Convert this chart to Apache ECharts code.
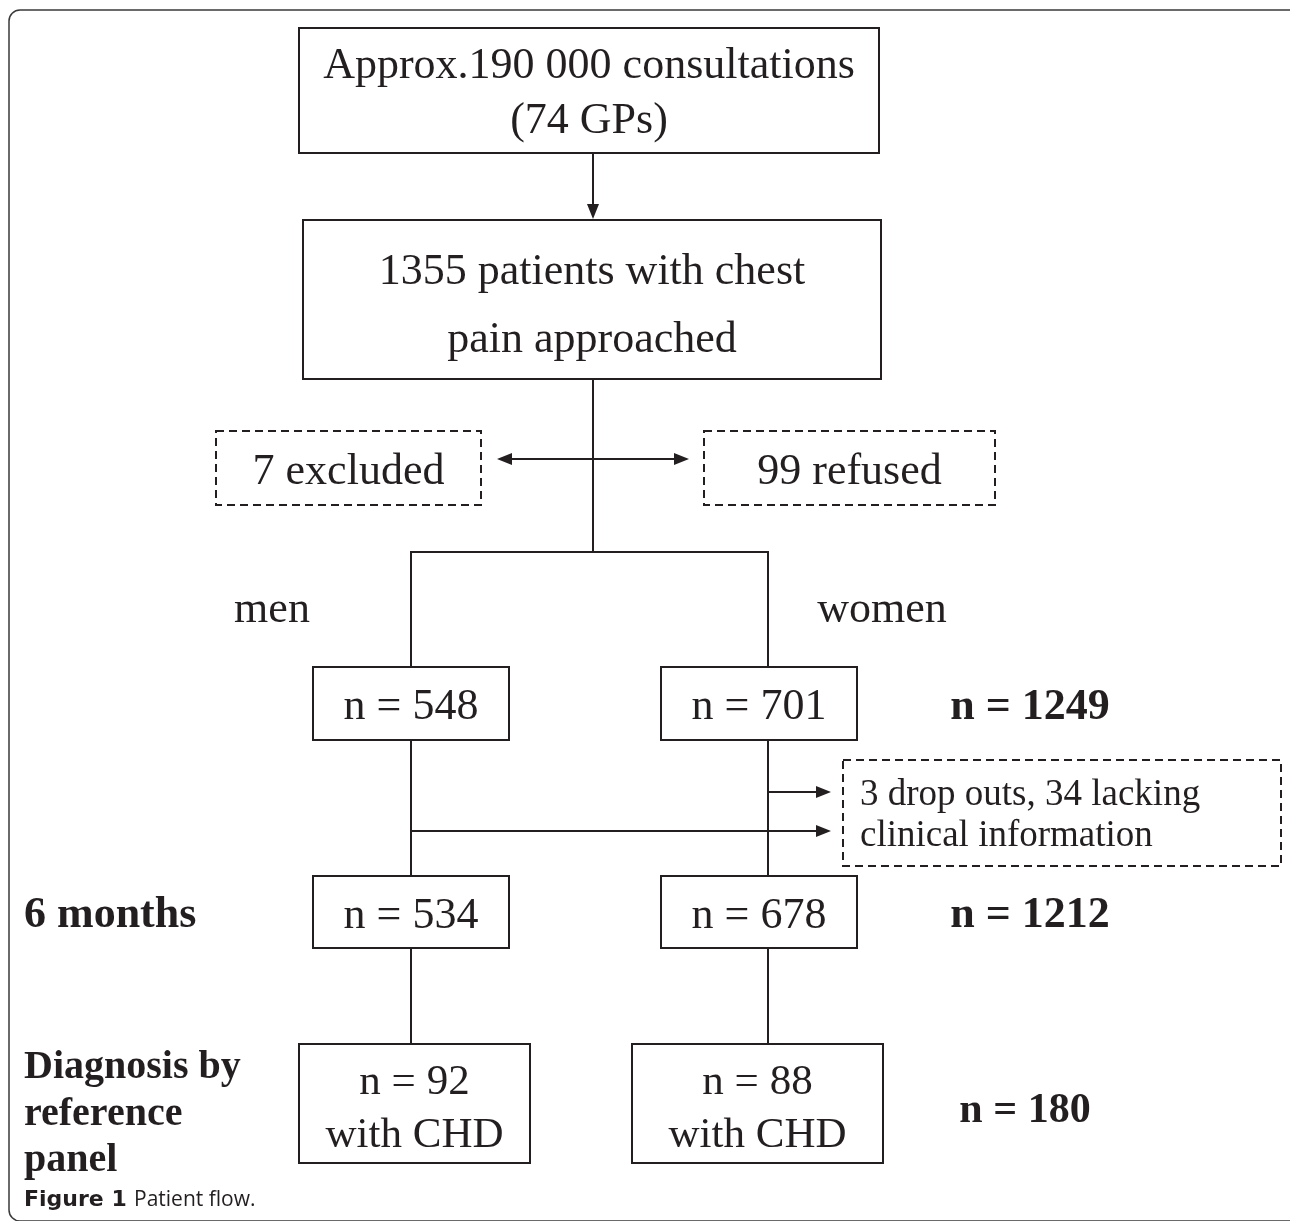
<!DOCTYPE html>
<html>
<head>
<meta charset="utf-8">
<script src="https://cdn.jsdelivr.net/npm/echarts@6/dist/echarts.min.js"></script>
<style>
  html, body { margin: 0; padding: 0; background: #fff; }
  #chart { width: 1290px; height: 1221px; }
</style>
</head>
<body>
<div id="chart"></div>
<script>
// ---------- data (text & numbers) ----------
const sourceLines      = ["Approx.190 000 consultations", "(74 GPs)"];
const approachedLines  = ["1355 patients with chest", "pain approached"];
const exclusionLabels  = ["7 excluded", "99 refused"];
const groupLabels      = ["men", "women"];
const baselineCounts   = [548, 701];
const baselineTotal    = 1249;
const lossLines        = ["3 drop outs, 34 lacking", "clinical information"];
const followupCounts   = [534, 678];
const followupTotal    = 1212;
const chdCounts        = [92, 88];
const chdTotal         = 180;
const stageLabels      = ["6 months", "Diagnosis by", "reference", "panel"];
const captionBold      = "Figure 1";
const captionText      = "Patient flow.";

// ---------- layout (pixel geometry, kept apart from the data) ----------
const L = {
  src:   { x: 299, y: 28,  w: 580, h: 125 },
  appr:  { x: 303, y: 220, w: 578, h: 159 },
  excl:  [{ x: 216, y: 431, w: 265, h: 74 }, { x: 704, y: 431, w: 291, h: 74 }],
  base:  [{ x: 313, y: 667, w: 196, h: 73 }, { x: 661, y: 667, w: 196, h: 73 }],
  fol:   [{ x: 313, y: 876, w: 196, h: 72 }, { x: 661, y: 876, w: 196, h: 72 }],
  chd:   [{ x: 299, y: 1044, w: 231, h: 119 }, { x: 632, y: 1044, w: 251, h: 119 }],
  loss:  { x: 843, y: 760, w: 438, h: 106 },
  cx: 593, lx: 411, rx: 768, splitY: 552,
  totalX: 1030
};

const INK = '#231f20';
const SERIF = '"Liberation Serif", "Times New Roman", serif';
const DY = 3;
const els = [];

function rect(b, dashed) {
  els.push({ type: 'rect', shape: { x: b.x, y: b.y, width: b.w, height: b.h },
    style: { fill: null, stroke: INK, lineWidth: 2, lineDash: dashed ? [8, 5] : null } });
}
function line(points) {
  els.push({ type: 'polyline', shape: { points: points },
    style: { fill: null, stroke: INK, lineWidth: 2 } });
}
function head(tx, ty, dir) {
  const L2 = 15, W = 6;
  let pts;
  if (dir === 'down') pts = [[tx, ty], [tx - W, ty - L2], [tx + W, ty - L2]];
  if (dir === 'right') pts = [[tx, ty], [tx - L2, ty - W], [tx - L2, ty + W]];
  if (dir === 'left') pts = [[tx, ty], [tx + L2, ty - W], [tx + L2, ty + W]];
  els.push({ type: 'polygon', shape: { points: pts }, style: { fill: INK } });
}
function text(str, x, y, size, opts) {
  opts = opts || {};
  els.push({ type: 'text', x: x, y: y + DY, style: {
    text: str, fill: INK,
    font: (opts.bold ? 'bold ' : '') + size + 'px ' + (opts.family || SERIF),
    align: opts.align || 'center', verticalAlign: 'middle' } });
}
function center(b) { return [b.x + b.w / 2, b.y + b.h / 2]; }

// outer frame
els.push({ type: 'rect', shape: { x: 9, y: 10, width: 1292, height: 1211, r: 11 },
  style: { fill: null, stroke: '#3a3a3a', lineWidth: 1.5 } });

// boxes
rect(L.src); rect(L.appr);
rect(L.excl[0], true); rect(L.excl[1], true);
rect(L.loss, true);
[L.base, L.fol, L.chd].forEach(a => a.forEach(b => rect(b)));

// box texts
let c = center(L.src);
text(sourceLines[0], c[0], c[1] - 27, 44);
text(sourceLines[1], c[0], c[1] + 28, 44);
c = center(L.appr);
text(approachedLines[0], c[0], c[1] - 30, 44);
text(approachedLines[1], c[0], c[1] + 38, 44);
exclusionLabels.forEach((s, i) => { const p = center(L.excl[i]); text(s, p[0], p[1] + 1, 44); });
baselineCounts.forEach((v, i) => { const p = center(L.base[i]); text('n = ' + v, p[0], p[1] + 1, 44); });
followupCounts.forEach((v, i) => { const p = center(L.fol[i]); text('n = ' + v, p[0], p[1] + 1, 44); });
chdCounts.forEach((v, i) => { const p = center(L.chd[i]);
  text('n = ' + v, p[0], p[1] - 24, 43); text('with CHD', p[0], p[1] + 29, 43); });
text(lossLines[0], L.loss.x + 17, L.loss.y + 32, 37, { align: 'left' });
text(lossLines[1], L.loss.x + 17, L.loss.y + 73, 37, { align: 'left' });

// group labels & totals
text(groupLabels[0], 272, 607, 44);
text(groupLabels[1], 882, 607, 44);
text('n = ' + baselineTotal, L.totalX, 705, 44, { bold: true });
text('n = ' + followupTotal, L.totalX, 913, 44, { bold: true });
text('n = ' + chdTotal, 1025, 1108, 42, { bold: true });
text(stageLabels[0], 24, 913, 44, { bold: true, align: 'left' });
text(stageLabels[1], 24, 1065, 40, { bold: true, align: 'left' });
text(stageLabels[2], 24, 1112, 40, { bold: true, align: 'left' });
text(stageLabels[3], 24, 1158, 40, { bold: true, align: 'left' });

// connectors
line([[L.cx, L.src.y + L.src.h], [L.cx, L.appr.y - 12]]);
head(L.cx, L.appr.y - 1, 'down');
line([[L.cx, L.appr.y + L.appr.h], [L.cx, L.splitY]]);
line([[L.lx, L.base[0].y], [L.lx, L.splitY], [L.rx, L.splitY], [L.rx, L.base[1].y]]);
// exclusion double arrow
line([[509, 459], [676, 459]]);
head(497, 459, 'left'); head(689, 459, 'right');
// baseline -> follow-up
line([[L.lx, L.base[0].y + L.base[0].h], [L.lx, L.fol[0].y]]);
line([[L.rx, L.base[1].y + L.base[1].h], [L.rx, L.fol[1].y]]);
// loss arrows
line([[L.rx, 792], [818, 792]]); head(831, 792, 'right');
line([[L.lx, 831], [818, 831]]); head(831, 831, 'right');
// follow-up -> CHD
line([[L.lx, L.fol[0].y + L.fol[0].h], [L.lx, L.chd[0].y]]);
line([[L.rx, L.fol[1].y + L.fol[1].h], [L.rx, L.chd[1].y]]);

// caption
els.push({ type: 'text', x: 24, y: 1200, style: {
  text: captionBold, fill: INK, font: 'bold 22px "DejaVu Sans", sans-serif',
  align: 'left', verticalAlign: 'middle' } });
els.push({ type: 'text', x: 134, y: 1200, style: {
  text: captionText, fill: INK, font: '21px "Open Sans", "DejaVu Sans", sans-serif',
  align: 'left', verticalAlign: 'middle' } });

const chart = echarts.init(document.getElementById('chart'), null, { renderer: 'canvas' });
chart.setOption({ backgroundColor: '#ffffff', animation: false, graphic: { elements: els } });
</script>
</body>
</html>
